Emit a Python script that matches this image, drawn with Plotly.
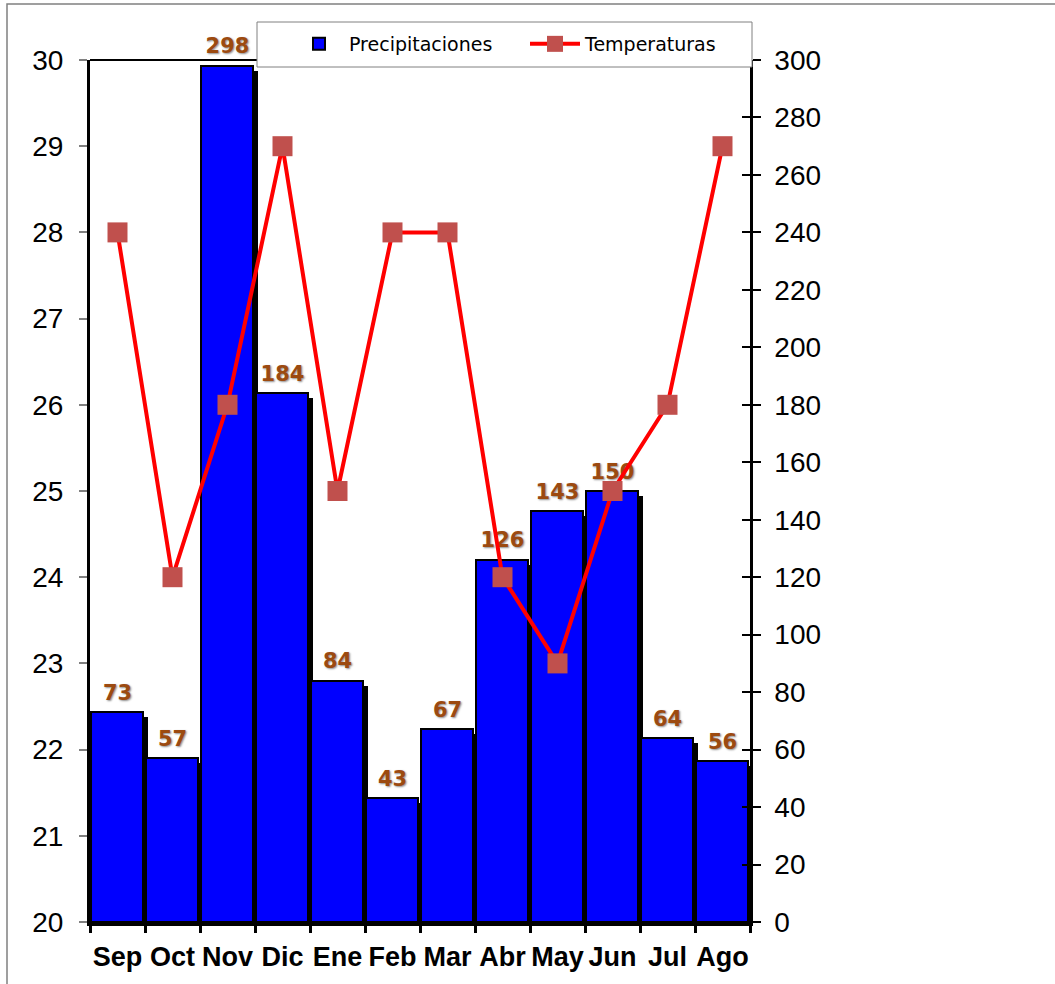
import plotly.graph_objects as go

# Monthly climate data
months = ["Sep", "Oct", "Nov", "Dic", "Ene", "Feb", "Mar", "Abr", "May", "Jun", "Jul", "Ago"]
precipitaciones = [73, 57, 298, 184, 84, 43, 67, 126, 143, 150, 64, 56]
temperaturas = [28, 24, 26, 29, 25, 28, 28, 24, 23, 25, 26, 29]

# Figure geometry (pixels)
W, H = 1055, 984
ML, MR, MT, MB = 90, 305, 60, 62
PLOT_W = W - ML - MR
PLOT_H = H - MT - MB
PREC_MAX = 300
SHADOW_DY = 5 * PREC_MAX / PLOT_H  # drop of the bar shadow, in axis units


def px_x(px):
    return (px - ML) / PLOT_W


def px_y(py):
    return (H - MB - py) / PLOT_H


fig = go.Figure()

# drop shadow behind each bar
fig.add_trace(go.Bar(
    x=months, y=[v - SHADOW_DY for v in precipitaciones],
    width=0.96, offset=-0.40,
    marker=dict(color="black", line=dict(width=0)),
    yaxis="y", showlegend=False, hoverinfo="skip",
))

fig.add_trace(go.Bar(
    x=months, y=precipitaciones, name="Precipitaciones",
    width=0.96, offset=-0.49,
    marker=dict(color="#0000FF", line=dict(color="black", width=2)),
    yaxis="y",
))

# value labels above the bars
fig.add_trace(go.Scatter(
    x=months, y=precipitaciones, mode="markers+text",
    text=[str(v) for v in precipitaciones], textposition="top center",
    marker=dict(size=10, opacity=0), cliponaxis=False,
    textfont=dict(family="DejaVu Sans", size=21, color="#9C4A10", weight="bold",
                  shadow="1px 1px 2px rgba(0,0,0,0.45)"),
    yaxis="y", showlegend=False, hoverinfo="skip",
))

fig.add_trace(go.Scatter(
    x=months, y=temperaturas, name="Temperaturas", mode="lines+markers",
    line=dict(color="#FF0000", width=4),
    marker=dict(symbol="square", size=20, color="#C0504D"),
    yaxis="y2",
))

# inward half of the cross ticks on the right axis
fig.add_trace(go.Scatter(x=[], y=[], yaxis="y3", showlegend=False, hoverinfo="skip"))

tick_font = dict(family="Liberation Sans, Arial", size=28, color="black")

fig.update_layout(
    width=W, height=H,
    margin=dict(l=ML, r=MR, t=MT, b=MB, autoexpand=False),
    paper_bgcolor="white", plot_bgcolor="white",
    barmode="overlay", bargap=0,
    xaxis=dict(
        type="category", categoryorder="array", categoryarray=months,
        range=[-0.5, 11.5], showline=True, linewidth=4, linecolor="black",
        ticks="outside", tickson="boundaries", ticklen=7, tickwidth=3, tickcolor="black",
        tickangle=0, automargin=False, ticklabelstandoff=8,
        tickfont=dict(family="Liberation Sans, Arial", size=27, color="black", weight="bold"),
        showgrid=False, zeroline=False, fixedrange=True,
    ),
    yaxis=dict(
        side="right", range=[0, PREC_MAX], dtick=20, tick0=0,
        showline=True, linewidth=2.5, linecolor="black",
        ticks="outside", ticklen=8, tickwidth=1.5, tickcolor="black",
        tickfont=tick_font, ticklabelstandoff=8, automargin=False,
        showgrid=False, zeroline=False,
    ),
    yaxis2=dict(
        overlaying="y", side="left", range=[20, 30], dtick=1, tick0=20,
        showline=True, linewidth=3, linecolor="black",
        ticks="outside", ticklen=8, tickwidth=1.5, tickcolor="#808080",
        tickfont=tick_font, ticklabelstandoff=10, automargin=False,
        showgrid=False, zeroline=False,
    ),
    yaxis3=dict(
        overlaying="y", side="right", range=[0, PREC_MAX], dtick=20, tick0=0,
        showline=False, ticks="inside", ticklen=8, tickwidth=1.5, tickcolor="black",
        showticklabels=False, showgrid=False, zeroline=False,
    ),
    legend=dict(
        orientation="h", x=px_x(289), y=px_y(25),
        xanchor="left", yanchor="top",
        bgcolor="rgba(0,0,0,0)", borderwidth=0,
        font=dict(family="DejaVu Sans", size=19, color="black"),
        itemwidth=50, entrywidth=171,
    ),
    shapes=[
        # top edge of the plot frame
        dict(type="line", xref="paper", yref="paper", x0=0, x1=1, y0=1, y1=1,
             line=dict(color="black", width=2), layer="below"),
        # outer chart border
        dict(type="rect", xref="paper", yref="paper",
             x0=px_x(7), x1=px_x(W + 20), y0=px_y(H + 20), y1=px_y(4),
             line=dict(color="#808080", width=1.5), layer="below"),
        # legend frame
        dict(type="rect", xref="paper", yref="paper",
             x0=px_x(257), x1=px_x(752), y0=px_y(67), y1=px_y(22),
             line=dict(color="#808080", width=1), fillcolor="white", layer="above"),
    ],
)

fig.write_html("out.html")
